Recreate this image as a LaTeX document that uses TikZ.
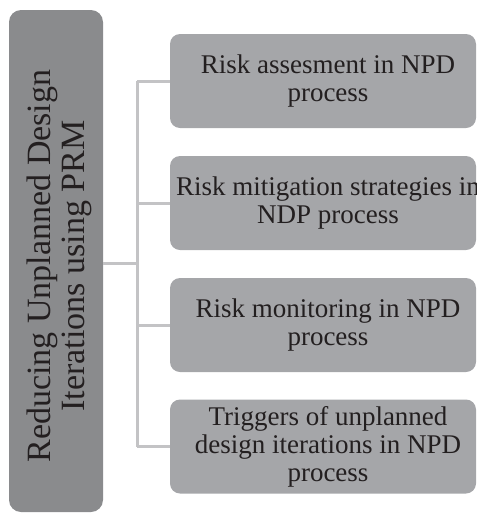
\documentclass[tikz,border=0pt]{standalone}
\usepackage{fontspec}
\setmainfont{Liberation Serif}
\begin{document}
\begin{tikzpicture}[x=1pt,y=-1pt,
  leftbox/.style={fill=mainfill,rounded corners=12pt,minimum width=94pt,minimum height=502pt,inner sep=0pt},
  itembox/.style={fill=itemfill,rounded corners=10pt,minimum width=306pt,minimum height=94pt,inner sep=0pt},
  itemtext/.style={text=txt,font=\fontsize{27}{28}\selectfont,align=center,inner sep=0pt,xshift=5pt},
  conn/.style={draw=linec,line width=3pt}]
\definecolor{mainfill}{HTML}{8A8B8D}
\definecolor{itemfill}{HTML}{A5A6A9}
\definecolor{linec}{HTML}{C3C3C5}
\definecolor{txt}{HTML}{231F20}
\useasboundingbox (0,0) rectangle (477,515);
\node[leftbox] (main) at (56,261) {};
\node[rotate=90,text=txt,font=\fontsize{34}{34}\selectfont,align=center,inner sep=0pt] (maintext) at (59,266) {Reducing Unplanned Design\\Iterations using PRM};
\node[itembox] (b1) at (323,81) {};
\node[itembox] (b2) at (323,203) {};
\node[itembox] (b3) at (323,325) {};
\node[itembox] (b4) at (323,446.5) {};
\node[itemtext] (t1) at (b1) {Risk assesment in NPD\\process};
\node[itemtext] (t2) at (b2) {Risk mitigation strategies in\\NDP process};
\node[itemtext] (t3) at (b3) {Risk monitoring in NPD\\process};
\node[itemtext] (t4) at (b4) {Triggers of unplanned\\design iterations in NPD\\process};
\coordinate (j) at (137,263);
\coordinate (top) at (137,81);
\coordinate (bot) at (137,446.5);
\draw[conn] (main.east |- j) -- (j);
\draw[conn] (top) -- (bot);
\draw[conn] (top) -- (b1.west);
\draw[conn] (b2.west -| top) -- (b2.west);
\draw[conn] (b3.west -| top) -- (b3.west);
\draw[conn] (bot) -- (b4.west);
\end{tikzpicture}
\end{document}
